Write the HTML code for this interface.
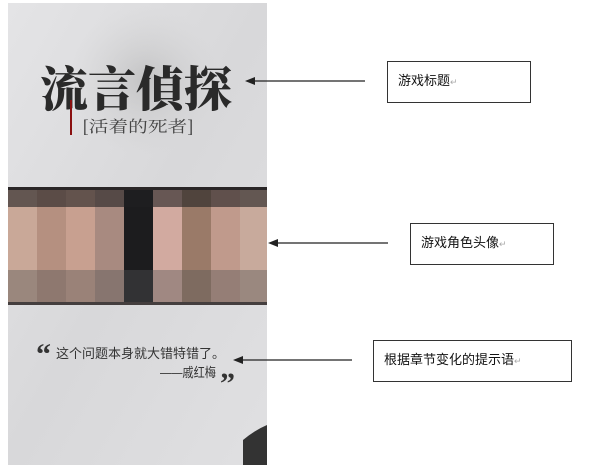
<!DOCTYPE html>
<html><head><meta charset="utf-8"><style>
body{margin:0;background:#fff;width:600px;height:475px;overflow:hidden;position:relative;font-family:"Liberation Sans","Noto Sans CJK SC",sans-serif}
.box{position:absolute;border:1px solid #333;background:#fff;font-size:13px;color:#111;box-sizing:border-box;padding:8px 0 0 10px}
.box span{color:#aaa;font-size:9px}
</style></head><body>
<svg width="600" height="475" style="position:absolute;left:0;top:0">
<defs>
<radialGradient id="moon" cx="50%" cy="50%" r="50%"><stop offset="0" stop-color="#aaa" stop-opacity=".5"/><stop offset="1" stop-color="#ccc" stop-opacity="0"/></radialGradient>
<linearGradient id="bg" x1="0" y1="0" x2="1" y2="1"><stop offset="0" stop-color="#e4e4e6"/><stop offset=".5" stop-color="#d8d8da"/><stop offset="1" stop-color="#e0e0e2"/></linearGradient>
</defs>
<rect x="8" y="3" width="259" height="462" fill="url(#bg)"/>
<circle cx="145" cy="80" r="75" fill="url(#moon)"/>
<text x="40" y="106" font-family="Noto Serif CJK SC,serif" font-weight="900" font-size="48" fill="#2a2a2a" textLength="192" lengthAdjust="spacingAndGlyphs">流言偵探</text>
<rect x="70" y="100" width="2" height="35" fill="#8a1010"/>
<text x="82" y="132" font-family="Noto Serif CJK SC,serif" font-size="16" fill="#444" textLength="112" lengthAdjust="spacingAndGlyphs">[活着的死者]</text>
<rect x="8" y="187" width="259" height="118" fill="#3a3030"/>
<g>
<rect x="8" y="190" width="29" height="112" fill="#c9a898"/>
<rect x="37" y="190" width="29" height="112" fill="#b59080"/>
<rect x="66" y="190" width="29" height="112" fill="#c8a090"/>
<rect x="95" y="190" width="29" height="112" fill="#a88a80"/>
<rect x="124" y="190" width="29" height="112" fill="#1c1c1e"/>
<rect x="153" y="190" width="29" height="112" fill="#d2aaa0"/>
<rect x="182" y="190" width="29" height="112" fill="#9a7a68"/>
<rect x="211" y="190" width="29" height="112" fill="#c09a8c"/>
<rect x="240" y="190" width="27" height="112" fill="#c8aa9c"/>
<rect x="8" y="187" width="259" height="20" fill="#202022" opacity=".6"/>
<rect x="8" y="270" width="259" height="35" fill="#555" opacity=".4"/>
</g>
<text x="36" y="364" font-family="Liberation Serif,serif" font-size="30" font-weight="bold" fill="#333">“</text>
<text x="56" y="358" font-size="13" fill="#333">这个问题本身就大错特错了。</text>
<text x="160" y="377" font-size="13" fill="#333" textLength="56" lengthAdjust="spacingAndGlyphs">——戚红梅</text>
<text x="220" y="393" font-family="Liberation Serif,serif" font-size="30" font-weight="bold" fill="#333">”</text>
<path d="M243 440 Q255 430 267 425 L267 465 L243 465Z" fill="#333"/>
<g stroke="#222" stroke-width="1.3" fill="#222">
<line x1="365" y1="81" x2="252" y2="81"/><polygon points="245,81 255,77 255,85" stroke="none"/>
<line x1="388" y1="243" x2="275" y2="243"/><polygon points="268,243 278,239 278,247" stroke="none"/>
<line x1="352" y1="360" x2="240" y2="360"/><polygon points="233,360 243,356 243,364" stroke="none"/>
</g>
</svg>
<div class="box" style="left:387px;top:61px;width:144px;height:42px">游戏标题<span>↵</span></div>
<div class="box" style="left:410px;top:223px;width:144px;height:42px">游戏角色头像<span>↵</span></div>
<div class="box" style="left:373px;top:340px;width:199px;height:42px">根据章节变化的提示语<span>↵</span></div>
</body></html>
